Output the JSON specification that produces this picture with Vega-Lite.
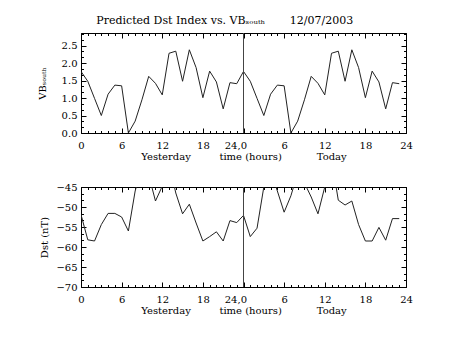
{
  "$schema": "https://vega.github.io/schema/vega-lite/v6.json",
  "background": "white",
  "padding": {"left": 36, "top": 15, "right": 5, "bottom": 5},
  "title": {"text": "Predicted Dst Index vs. VBₛₒᵤₜₕ\u00a0\u00a0\u00a0\u00a0\u00a0\u00a0\u00a012/07/2003", "font": "DejaVu Serif", "fontSize": 11, "fontWeight": "normal", "color": "black", "anchor": "middle", "offset": 6},
  "config": {
    "font": "DejaVu Serif",
    "view": {"stroke": "black", "strokeWidth": 1},
    "axis": {"grid": false, "domain": false, "tickColor": "black", "labelColor": "black", "titleColor": "black", "labelFont": "DejaVu Serif", "titleFont": "DejaVu Serif", "labelFontSize": 10, "titleFontSize": 10, "titleFontWeight": "normal", "labelFlush": false, "labelOverlap": false}
  },
  "datasets": {
    "vb": [
      {"hour": 0, "vb": 1.76}, {"hour": 1, "vb": 1.48}, {"hour": 2, "vb": 0.99}, {"hour": 3, "vb": 0.50},
      {"hour": 4, "vb": 1.11}, {"hour": 5, "vb": 1.37}, {"hour": 6, "vb": 1.35}, {"hour": 7, "vb": 0.0},
      {"hour": 8, "vb": 0.34}, {"hour": 9, "vb": 0.95}, {"hour": 10, "vb": 1.62}, {"hour": 11, "vb": 1.42},
      {"hour": 12, "vb": 1.09}, {"hour": 13, "vb": 2.28}, {"hour": 14, "vb": 2.34}, {"hour": 15, "vb": 1.48},
      {"hour": 16, "vb": 2.38}, {"hour": 17, "vb": 1.87}, {"hour": 18, "vb": 1.01}, {"hour": 19, "vb": 1.77},
      {"hour": 20, "vb": 1.46}, {"hour": 21, "vb": 0.69}, {"hour": 22, "vb": 1.44}, {"hour": 23, "vb": 1.41},
      {"hour": 24, "vb": 1.76}, {"hour": 25, "vb": 1.48}, {"hour": 26, "vb": 0.99}, {"hour": 27, "vb": 0.50},
      {"hour": 28, "vb": 1.11}, {"hour": 29, "vb": 1.37}, {"hour": 30, "vb": 1.35}, {"hour": 31, "vb": 0.0},
      {"hour": 32, "vb": 0.34}, {"hour": 33, "vb": 0.95}, {"hour": 34, "vb": 1.62}, {"hour": 35, "vb": 1.42},
      {"hour": 36, "vb": 1.09}, {"hour": 37, "vb": 2.28}, {"hour": 38, "vb": 2.34}, {"hour": 39, "vb": 1.48},
      {"hour": 40, "vb": 2.38}, {"hour": 41, "vb": 1.87}, {"hour": 42, "vb": 1.01}, {"hour": 43, "vb": 1.77},
      {"hour": 44, "vb": 1.46}, {"hour": 45, "vb": 0.69}, {"hour": 46, "vb": 1.44}, {"hour": 47, "vb": 1.41}
    ],
    "dst": [
      {"hour": 0, "dst": -51.9}, {"hour": 1, "dst": -58.2}, {"hour": 2, "dst": -58.5}, {"hour": 3, "dst": -54.4},
      {"hour": 4, "dst": -51.6}, {"hour": 5, "dst": -51.6}, {"hour": 6, "dst": -52.5}, {"hour": 7, "dst": -56.0},
      {"hour": 8, "dst": -46.0}, {"hour": 9, "dst": -40.0}, {"hour": 10, "dst": -42.0}, {"hour": 11, "dst": -48.5},
      {"hour": 12, "dst": -44.8}, {"hour": 13, "dst": -39.0}, {"hour": 14, "dst": -46.5}, {"hour": 15, "dst": -51.7},
      {"hour": 16, "dst": -49.3}, {"hour": 17, "dst": -54.0}, {"hour": 18, "dst": -58.5}, {"hour": 19, "dst": -57.4},
      {"hour": 20, "dst": -56.2}, {"hour": 21, "dst": -58.5}, {"hour": 22, "dst": -53.4}, {"hour": 23, "dst": -53.9},
      {"hour": 24, "dst": -52.1}, {"hour": 25, "dst": -57.4}, {"hour": 26, "dst": -55.3}, {"hour": 27, "dst": -45.0},
      {"hour": 28, "dst": -41.0}, {"hour": 29, "dst": -46.0}, {"hour": 30, "dst": -51.3}, {"hour": 31, "dst": -47.2},
      {"hour": 32, "dst": -41.5}, {"hour": 33, "dst": -44.0}, {"hour": 34, "dst": -47.5}, {"hour": 35, "dst": -51.7},
      {"hour": 36, "dst": -45.0}, {"hour": 37, "dst": -38.0}, {"hour": 38, "dst": -48.3}, {"hour": 39, "dst": -49.5},
      {"hour": 40, "dst": -48.5}, {"hour": 41, "dst": -54.4}, {"hour": 42, "dst": -58.5}, {"hour": 43, "dst": -58.5},
      {"hour": 44, "dst": -55.1}, {"hour": 45, "dst": -58.3}, {"hour": 46, "dst": -52.9}, {"hour": 47, "dst": -52.9}
    ],
    "mark24": [{"hour": 24}]
  },
  "spacing": -4,
  "vconcat": [
    {
      "width": 325, "height": 100,
      "layer": [
        {
          "data": {"name": "vb"},
          "mark": {"type": "line", "color": "#222", "strokeWidth": 1, "clip": true},
          "encoding": {
            "x": {"field": "hour", "type": "quantitative", "scale": {"domain": [0, 48], "nice": false, "zero": false},
                  "axis": {"orient": "bottom", "values": [0, 6, 12, 18, 24, 30, 36, 42, 48], "tickSize": -5, "labelPadding": 12,
                           "labelExpr": "datum.value == 24 ? '24,0' : datum.value > 24 ? '' + (datum.value - 24) : datum.label",
                           "labelAlign": {"condition": {"test": "datum.value == 24", "value": "right"}, "value": "center"},
                           "labelOffset": {"condition": {"test": "datum.value == 24", "value": 3}, "value": 0},
                           "title": "Yesterday\u00a0\u00a0\u00a0\u00a0\u00a0\u00a0\u00a0\u00a0\u00a0time (hours)\u00a0\u00a0\u00a0\u00a0\u00a0\u00a0\u00a0\u00a0\u00a0\u00a0\u00a0Today", "titlePadding": 1}},
            "y": {"field": "vb", "type": "quantitative", "scale": {"domain": [0, 2.86], "nice": false, "zero": false},
                  "axis": {"orient": "left", "values": [0, 0.5, 1, 1.5, 2, 2.5], "format": ".1f", "tickSize": -5, "labelPadding": 9,
                           "title": "VBₛₒᵤₜₕ", "titlePadding": 14}}
          }
        },
        {
          "data": {"name": "vb"},
          "mark": {"type": "line", "opacity": 0},
          "encoding": {
            "x": {"field": "hour", "type": "quantitative", "axis": {"orient": "top", "values": [0, 6, 12, 18, 24, 30, 36, 42, 48], "tickSize": -5, "labels": false, "title": null}},
            "y": {"field": "vb", "type": "quantitative", "axis": {"orient": "right", "values": [0, 0.5, 1, 1.5, 2, 2.5], "tickSize": -5, "labels": false, "title": null}}
          }
        },
        {
          "data": {"name": "vb"},
          "mark": {"type": "line", "opacity": 0},
          "encoding": {
            "x": {"field": "hour", "type": "quantitative", "axis": {"orient": "bottom", "values": [0,1,2,3,4,5,6,7,8,9,10,11,12,13,14,15,16,17,18,19,20,21,22,23,24,25,26,27,28,29,30,31,32,33,34,35,36,37,38,39,40,41,42,43,44,45,46,47,48], "tickSize": -2.5, "labels": false, "title": null}},
            "y": {"field": "vb", "type": "quantitative", "axis": {"orient": "left", "values": [0.1667, 0.3333, 0.6667, 0.8333, 1.1667, 1.3333, 1.6667, 1.8333, 2.1667, 2.3333, 2.6667, 2.8333], "tickSize": -2.5, "labels": false, "title": null}}
          }
        },
        {
          "data": {"name": "vb"},
          "mark": {"type": "line", "opacity": 0},
          "encoding": {
            "x": {"field": "hour", "type": "quantitative", "axis": {"orient": "top", "values": [0,1,2,3,4,5,6,7,8,9,10,11,12,13,14,15,16,17,18,19,20,21,22,23,24,25,26,27,28,29,30,31,32,33,34,35,36,37,38,39,40,41,42,43,44,45,46,47,48], "tickSize": -2.5, "labels": false, "title": null}},
            "y": {"field": "vb", "type": "quantitative", "axis": {"orient": "right", "values": [0.1667, 0.3333, 0.6667, 0.8333, 1.1667, 1.3333, 1.6667, 1.8333, 2.1667, 2.3333, 2.6667, 2.8333], "tickSize": -2.5, "labels": false, "title": null}}
          }
        },
        {
          "data": {"name": "mark24"},
          "mark": {"type": "rule", "color": "#444", "strokeWidth": 1},
          "encoding": {"x": {"field": "hour", "type": "quantitative", "axis": null}}
        }
      ],
      "resolve": {"axis": {"x": "independent", "y": "independent"}}
    },
    {
      "width": 325, "height": 100,
      "layer": [
        {
          "data": {"name": "dst"},
          "mark": {"type": "line", "color": "#222", "strokeWidth": 1, "clip": true},
          "encoding": {
            "x": {"field": "hour", "type": "quantitative", "scale": {"domain": [0, 48], "nice": false, "zero": false},
                  "axis": {"orient": "bottom", "values": [0, 6, 12, 18, 24, 30, 36, 42, 48], "tickSize": -5, "labelPadding": 12,
                           "labelExpr": "datum.value == 24 ? '24,0' : datum.value > 24 ? '' + (datum.value - 24) : datum.label",
                           "labelAlign": {"condition": {"test": "datum.value == 24", "value": "right"}, "value": "center"},
                           "labelOffset": {"condition": {"test": "datum.value == 24", "value": 3}, "value": 0},
                           "title": "Yesterday\u00a0\u00a0\u00a0\u00a0\u00a0\u00a0\u00a0\u00a0\u00a0time (hours)\u00a0\u00a0\u00a0\u00a0\u00a0\u00a0\u00a0\u00a0\u00a0\u00a0\u00a0Today", "titlePadding": 1}},
            "y": {"field": "dst", "type": "quantitative", "scale": {"domain": [-70, -45], "nice": false, "zero": false},
                  "axis": {"orient": "left", "values": [-70, -65, -60, -55, -50, -45], "tickSize": -5, "labelPadding": 9,
                           "title": "Dst (nT)", "titlePadding": 6}}
          }
        },
        {
          "data": {"name": "dst"},
          "mark": {"type": "line", "opacity": 0},
          "encoding": {
            "x": {"field": "hour", "type": "quantitative", "axis": {"orient": "top", "values": [0, 6, 12, 18, 24, 30, 36, 42, 48], "tickSize": -5, "labels": false, "title": null}},
            "y": {"field": "dst", "type": "quantitative", "axis": {"orient": "right", "values": [-70, -65, -60, -55, -50, -45], "tickSize": -5, "labels": false, "title": null}}
          }
        },
        {
          "data": {"name": "dst"},
          "mark": {"type": "line", "opacity": 0},
          "encoding": {
            "x": {"field": "hour", "type": "quantitative", "axis": {"orient": "bottom", "values": [0,1,2,3,4,5,6,7,8,9,10,11,12,13,14,15,16,17,18,19,20,21,22,23,24,25,26,27,28,29,30,31,32,33,34,35,36,37,38,39,40,41,42,43,44,45,46,47,48], "tickSize": -2.5, "labels": false, "title": null}},
            "y": {"field": "dst", "type": "quantitative", "axis": {"orient": "left", "values": [-68.333, -66.667, -63.333, -61.667, -58.333, -56.667, -53.333, -51.667, -48.333, -46.667], "tickSize": -2.5, "labels": false, "title": null}}
          }
        },
        {
          "data": {"name": "dst"},
          "mark": {"type": "line", "opacity": 0},
          "encoding": {
            "x": {"field": "hour", "type": "quantitative", "axis": {"orient": "top", "values": [0,1,2,3,4,5,6,7,8,9,10,11,12,13,14,15,16,17,18,19,20,21,22,23,24,25,26,27,28,29,30,31,32,33,34,35,36,37,38,39,40,41,42,43,44,45,46,47,48], "tickSize": -2.5, "labels": false, "title": null}},
            "y": {"field": "dst", "type": "quantitative", "axis": {"orient": "right", "values": [-68.333, -66.667, -63.333, -61.667, -58.333, -56.667, -53.333, -51.667, -48.333, -46.667], "tickSize": -2.5, "labels": false, "title": null}}
          }
        },
        {
          "data": {"name": "mark24"},
          "mark": {"type": "rule", "color": "#444", "strokeWidth": 1},
          "encoding": {"x": {"field": "hour", "type": "quantitative", "axis": null}}
        }
      ],
      "resolve": {"axis": {"x": "independent", "y": "independent"}}
    }
  ]
}
